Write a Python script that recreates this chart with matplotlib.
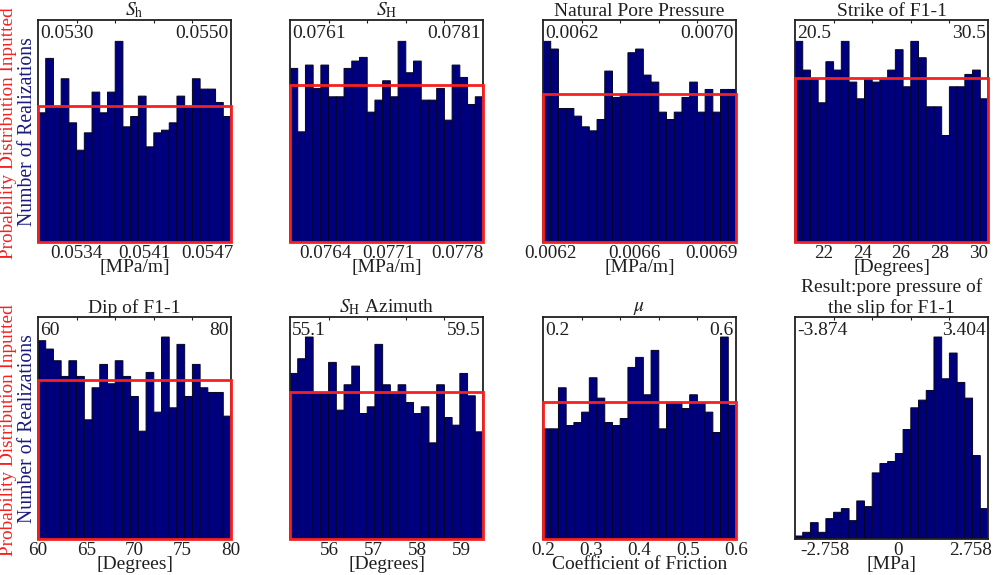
import numpy as np
import matplotlib
matplotlib.use("Agg")
import matplotlib.pyplot as plt

plt.rcParams["font.family"] = ["Liberation Serif", "DejaVu Serif"]
plt.rcParams["mathtext.fontset"] = "stix"

W, H = 996, 575
NAVY = "#00007f"
RED = "#f5201f"
INK = "#202020"

# bar heights (arbitrary count units), y axis runs 0-665
sh = [387, 550, 405, 489, 357, 275, 327, 449, 387, 449, 601, 345, 376, 437, 285, 327, 335, 357, 437, 405, 489, 458, 458, 418, 376]
shmax = [520, 330, 530, 460, 530, 435, 435, 520, 542, 553, 389, 425, 483, 435, 601, 507, 542, 425, 425, 460, 365, 530, 493, 412, 435]
pore = [601, 578, 400, 400, 377, 345, 333, 367, 512, 433, 443, 567, 578, 500, 479, 389, 367, 389, 433, 479, 389, 457, 389, 457, 457]
strike = [601, 515, 488, 417, 540, 515, 601, 479, 429, 488, 479, 488, 515, 576, 465, 601, 552, 405, 405, 319, 465, 465, 502, 515, 429]
dip = [594, 569, 534, 487, 534, 487, 357, 453, 523, 465, 534, 487, 427, 323, 499, 380, 605, 393, 583, 427, 523, 453, 439, 439, 368]
azimuth = [496, 540, 605, 439, 439, 529, 386, 462, 518, 376, 396, 583, 462, 439, 462, 409, 376, 396, 288, 462, 364, 341, 496, 429, 321]
friction = [330, 330, 453, 340, 349, 380, 483, 422, 349, 340, 361, 514, 544, 432, 565, 330, 409, 409, 391, 432, 409, 380, 319, 605, 401]
result = [9, 20, 49, 20, 61, 80, 91, 55, 114, 97, 198, 226, 232, 256, 328, 393, 416, 445, 605, 480, 557, 469, 422, 250, 91]

panels = [
    dict(title=r"$\mathit{S}_{\mathrm{h}}$", vals=sh, red=406, lo=0.0530, hi=0.0550, lo_txt="0.0530", hi_txt="0.0550",
         ticks=[0.0534, 0.0541, 0.05475], labels=["0.0534", "0.0541", "0.0547"], xlabel="[MPa/m]"),
    dict(title=r"$\mathit{S}_{\mathrm{H}}$", vals=shmax, red=471, lo=0.0761, hi=0.0781, lo_txt="0.0761", hi_txt="0.0781",
         ticks=[0.07647, 0.07712, 0.07783], labels=["0.0764", "0.0771", "0.0778"], xlabel="[MPa/m]"),
    dict(title="Natural Pore Pressure", vals=pore, red=444, lo=0.0062, hi=0.0070, lo_txt="0.0062", hi_txt="0.0070",
         ticks=[0.00623, 0.00658, 0.0069], labels=["0.0062", "0.0066", "0.0069"], xlabel="[MPa/m]"),
    dict(title="Strike of F1-1", vals=strike, red=490, lo=20.5, hi=30.5, lo_txt="20.5", hi_txt="30.5",
         ticks=[22, 24, 26, 28, 30], labels=["22", "24", "26", "28", "30"], xlabel="[Degrees]"),
    dict(title="Dip of F1-1", vals=dip, red=475, lo=60, hi=80, lo_txt="60", hi_txt="80",
         ticks=[60, 65, 70, 75, 80], labels=["60", "65", "70", "75", "80"], xlabel="[Degrees]"),
    dict(title=r"$\mathit{S}_{\mathrm{H}}$ Azimuth", vals=azimuth, red=440, lo=55.1, hi=59.5, lo_txt="55.1", hi_txt="59.5",
         ticks=[56, 57, 58, 59], labels=["56", "57", "58", "59"], xlabel="[Degrees]"),
    dict(title=r"$\mathit{\mu}$", vals=friction, red=410, lo=0.2, hi=0.6, lo_txt="0.2", hi_txt="0.6",
         ticks=[0.2, 0.3, 0.4, 0.5, 0.6], labels=["0.2", "0.3", "0.4", "0.5", "0.6"], xlabel="Coefficient of Friction"),
    dict(title="Result:pore pressure of\nthe slip for F1-1", vals=result, red=None, lo=-3.874, hi=3.404, lo_txt="-3.874", hi_txt="3.404",
         ticks=[-2.758, 0, 2.758], labels=["-2.758", "0", "2.758"], xlabel="[MPa]"),
]

lefts = [38, 290, 543, 795]
tops = [20, 317]
ax_w, ax_h = 193, 222

fig = plt.figure(figsize=(W / 100, H / 100), dpi=100)

for i, p in enumerate(panels):
    col, row = i % 4, i // 4
    ax = fig.add_axes([lefts[col] / W, 1 - (tops[row] + ax_h) / H, ax_w / W, ax_h / H])
    edges = np.linspace(p["lo"], p["hi"], len(p["vals"]) + 1)
    ax.bar(edges[:-1], p["vals"], width=np.diff(edges), align="edge", color=NAVY, edgecolor="#05051e", linewidth=0.7, snap=False)
    if p["red"] is not None:
        ax.bar(p["lo"], p["red"], width=p["hi"] - p["lo"], align="edge", fill=False, edgecolor=RED, linewidth=2, zorder=5, clip_on=False)
    ax.set_xlim(p["lo"], p["hi"])
    ax.set_ylim(0, 665)
    ax.set_yticks([])
    ax.set_xticks(p["ticks"], p["labels"])
    ax.tick_params(axis="x", length=0, labelsize=13.8, pad=2, colors=INK)
    # small inward ticks along the top edge
    top_ax = ax.secondary_xaxis("top")
    top_ax.set_xticks(np.linspace(p["lo"], p["hi"], 6)[1:-1], [""] * 4)
    top_ax.tick_params(direction="in", length=2.5, width=0.8, colors=INK)
    top_ax.spines["top"].set_visible(False)
    for s in ax.spines.values():
        s.set_linewidth(1.3)
        s.set_color(INK)
    ax.set_xlabel(p["xlabel"], fontsize=14, labelpad=-2, color=INK)
    ax.set_title(p["title"], fontsize=14, pad=3, color=INK)
    ax.text(0.012, 0.94, p["lo_txt"], transform=ax.transAxes, fontsize=14, ha="left", va="center", color=INK)
    ax.text(0.988, 0.94, p["hi_txt"], transform=ax.transAxes, fontsize=14, ha="right", va="center", color=INK)
    if col == 0:
        cy = tops[row] + ax_h / 2
        fig.text(9 / W, 1 - (cy + 2) / H, "Probability Distribution Inputted", color=RED, fontsize=13.9,
                 rotation=90, ha="center", va="center")
        fig.text(28 / W, 1 - (cy + 1) / H, "Number of Realizations", color="#1a1a80", fontsize=14.2,
                 rotation=90, ha="center", va="center")

fig.savefig("out.png", dpi=100)
